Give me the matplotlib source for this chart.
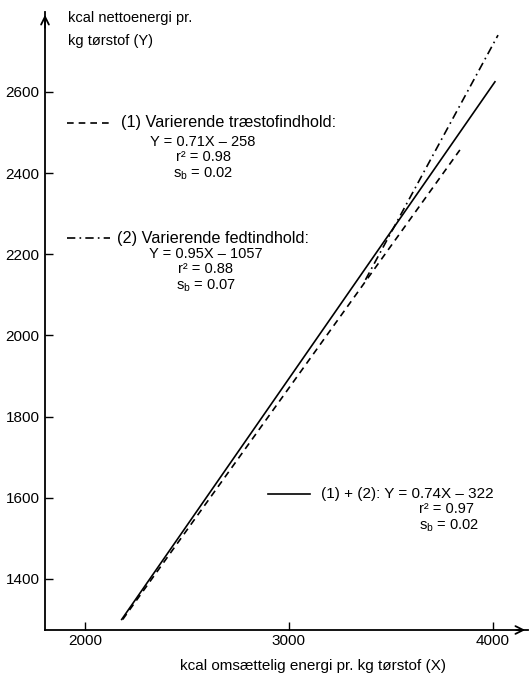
import matplotlib
matplotlib.use("Agg")
import matplotlib.pyplot as plt
from matplotlib.lines import Line2D

plt.rcParams['font.family'] = ['Liberation Sans', 'DejaVu Sans']

# line end points (kcal omsættelig X, kcal netto Y)
x_trae = [2185, 3838]
y_trae = [1300, 2457]
x_fedt = [3375, 4025]
y_fedt = [2137, 2740]
x_comb = [2180, 4010]
y_comb = [1300, 2625]

x_ticks = [2000, 3000, 4000]
y_ticks = [1400, 1600, 1800, 2000, 2200, 2400, 2600]

W, H = 530, 675
fig = plt.figure(figsize=(W / 100, H / 100), dpi=100)


def px(x, y):
    # pixel position -> figure fraction
    return x / W, 1 - y / H


ax = fig.add_axes([45 / W, 1 - 630 / H, (528 - 45) / W, (630 - 12) / H])
ax.set_xlim(1804, 4172)
ax.set_ylim(1274, 2797)

dash = (0, (4, 3))
dashdot = (0, (5, 2.5, 1, 2.5))
lw = 1.2

ax.plot(x_trae, y_trae, color='k', lw=lw, linestyle=dash)
ax.plot(x_fedt, y_fedt, color='k', lw=lw, linestyle=dashdot)
ax.plot(x_comb, y_comb, color='k', lw=lw)

ax.set_xticks(x_ticks)
ax.set_yticks(y_ticks)
ax.tick_params(direction='in', length=6, width=1, labelsize=11, colors='k')
ax.tick_params(axis='y', pad=4)
ax.tick_params(axis='x', pad=3)
for s in ['top', 'right']:
    ax.spines[s].set_visible(False)
for s in ['left', 'bottom']:
    ax.spines[s].set_linewidth(1.3)

# arrow heads on the axes
ax.annotate('', xy=(1.0, 0), xytext=(0.97, 0), xycoords='axes fraction',
            arrowprops=dict(arrowstyle='->', lw=1.3, color='k', mutation_scale=14))
ax.annotate('', xy=(0, 1.0), xytext=(0, 0.97), xycoords='axes fraction',
            arrowprops=dict(arrowstyle='->', lw=1.3, color='k', mutation_scale=14))

fs = 10.5
fs_head = 11.7
sb = 's$_\\mathregular{b}$'

# axis titles
fig.text(*px(68, 18), 'kcal nettoenergi pr.', fontsize=fs, va='center', ha='left')
fig.text(*px(68, 41), 'kg tørstof (Y)', fontsize=fs, va='center', ha='left')
fig.text(*px(313, 666), 'kcal omsættelig energi pr. kg tørstof (X)',
         fontsize=11, va='center', ha='center')


def key(x0, x1, y, ls):
    (a, b), (c, d) = px(x0, y), px(x1, y)
    fig.add_artist(Line2D([a, c], [b, d], color='k', lw=lw, linestyle=ls))


# (1)
key(67, 113, 123, dash)
fig.text(*px(121, 123), '(1) Varierende træstofindhold:', fontsize=fs_head, va='center')
fig.text(*px(203, 135), 'Y = 0.71X – 258\nr² = 0.98\n' + sb + ' = 0.02',
         fontsize=fs, va='top', ha='center', multialignment='center',
         linespacing=1.1)

# (2)
key(67, 110, 238, dashdot)
fig.text(*px(117, 238), '(2) Varierende fedtindhold:', fontsize=fs_head, va='center')
fig.text(*px(206, 247), 'Y = 0.95X – 1057\nr² = 0.88\n' + sb + ' = 0.07',
         fontsize=fs, va='top', ha='center', multialignment='center',
         linespacing=1.1)

# (1) + (2)
key(268, 310, 494, '-')
fig.text(*px(321, 494), '(1) + (2): Y = 0.74X – 322', fontsize=11, va='center')
fig.text(*px(419, 502), 'r² = 0.97\n' + sb + ' = 0.02',
         fontsize=fs, va='top', ha='left', linespacing=1.1)

fig.savefig('out.png', dpi=100, facecolor='white')
